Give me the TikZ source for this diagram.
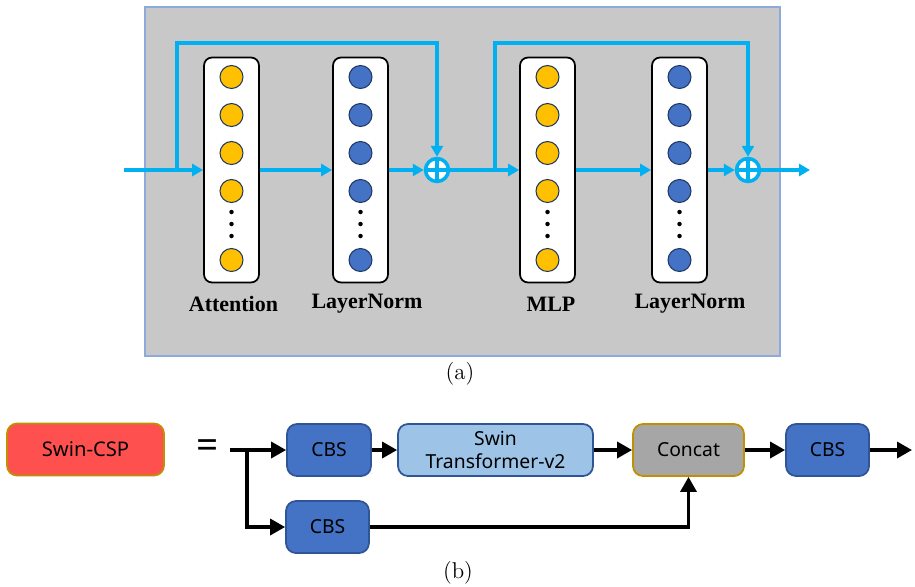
\documentclass[tikz,border=0pt]{standalone}
\usepackage{fontspec}
\usetikzlibrary{arrows.meta}
\newfontfamily\labelfont{Liberation Serif}
\newfontfamily\blockfont{Noto Sans}
\definecolor{panelgray}{HTML}{C8C8C8}
\definecolor{frameblue}{HTML}{8EAADB}
\definecolor{skyblue}{HTML}{00B0F0}
\definecolor{unitgold}{HTML}{FFC000}
\definecolor{unitblue}{HTML}{4472C4}
\definecolor{unitedge}{HTML}{203864}
\definecolor{cspred}{HTML}{FF5050}
\definecolor{goldedge}{HTML}{BF9000}
\definecolor{cbsblue}{HTML}{4472C4}
\definecolor{cbsedge}{HTML}{2F5597}
\definecolor{swinblue}{HTML}{9DC3E6}
\definecolor{concatgray}{HTML}{A6A6A6}

\begin{document}
\begin{tikzpicture}[
	x=0.02cm, y=-0.02cm,
	frame/.style={draw=frameblue, fill=panelgray, line width=0.8pt},
	col/.style={draw=black, fill=white, line width=1pt, rounded corners=0.16cm,
		minimum width=1.1cm, minimum height=4.5cm, inner sep=0pt},
	gold/.style={circle, draw=unitedge, fill=unitgold, line width=0.6pt, minimum size=0.46cm, inner sep=0pt},
	navy/.style={circle, draw=unitedge, fill=unitblue, line width=0.6pt, minimum size=0.46cm, inner sep=0pt},
	plus/.style={circle, draw=skyblue, fill=white, line width=2pt, minimum size=0.46cm, inner sep=0pt,
		path picture={\draw[skyblue, line width=2pt]
			(path picture bounding box.north) -- (path picture bounding box.south)
			(path picture bounding box.west) -- (path picture bounding box.east);}},
	flow/.style={draw=skyblue, line width=2pt, -{Triangle[length=0.22cm, width=0.24cm]}},
	lbl/.style={font=\labelfont\bfseries\fontsize{12.5}{15}\selectfont, anchor=base},
	blk/.style={rounded corners=0.2cm, minimum height=1.04cm, line width=1pt, align=center,
		font=\blockfont\fontsize{11}{13.6}\selectfont},
	arr/.style={line width=1.9pt, -{Triangle[length=0.3cm, width=0.32cm]}},
	caption/.style={font=\fontsize{13}{15}\selectfont}
]
	\useasboundingbox (0,0) rectangle (915,586);

	% (a) block {
	\draw[frame] (145,7) rectangle (780,356);
	\foreach \c/\x/\s in {att/231.5/gold, ln1/360.5/navy, mlp/547.5/gold, ln2/679.5/navy}{
		\node[col] (\c) at (\x,170) {};
		\foreach \y [count=\i] in {77,115,153,191,260}
			\node[\s] (\c-\i) at (\x,\y) {};
		\foreach \y in {212,224,236}
			\fill (\x,\y) circle (0.045cm);
	}
	\node[plus] (plus1) at (437,170) {};
	\node[plus] (plus2) at (748,170) {};
	\coordinate (in) at (124,170);
	\coordinate (split1) at (177,170);
	\coordinate (top1) at (437,43);
	\coordinate (split2) at (495,170);
	\coordinate (top2) at (748,43);
	\coordinate (out1) at (810,170);

	\draw[flow] (in) -- (att);
	\draw[flow] (split1) |- (top1) -- (plus1);
	\draw[flow] (att) -- (ln1);
	\draw[flow] (ln1) -- (plus1);
	\draw[flow] (plus1) -- (mlp);
	\draw[flow] (split2) |- (top2) -- (plus2);
	\draw[flow] (mlp) -- (ln2);
	\draw[flow] (ln2) -- (plus2);
	\draw[flow] (plus2) -- (out1);

	\node[lbl] (attlbl) at (233.5,311) {Attention};
	\node[lbl] (ln1lbl) at (367,308) {LayerNorm};
	\node[lbl] (mlplbl) at (551,311) {MLP};
	\node[lbl] (ln2lbl) at (690,308) {LayerNorm};
	\node[caption] (capa) at (460,374) {(a)};
	% }

	% (b) Swin-CSP {
	\node[blk, draw=goldedge, fill=cspred, minimum width=3.14cm,
		font=\blockfont\fontsize{11.5}{13}\selectfont] (csp) at (85.5,449.5) {Swin-CSP};
	\node[font=\blockfont\bfseries\fontsize{22}{24}\selectfont, inner sep=0pt] (eq) at (208,449) {=};
	\node[blk, draw=cbsedge, fill=cbsblue, minimum width=1.68cm] (cbs1) at (329,450) {CBS};
	\node[blk, draw=cbsedge, fill=cbsblue, minimum width=1.66cm] (cbs2) at (327.5,527) {CBS};
	\node[blk, draw=cbsedge, fill=swinblue, minimum width=3.9cm] (swin) at (495.5,450) {Swin\\Transformer-v2};
	\node[blk, draw=goldedge, fill=concatgray, minimum width=2.22cm] (concat) at (688.5,450) {Concat};
	\node[blk, draw=cbsedge, fill=cbsblue, minimum width=1.66cm] (cbs3) at (827.5,450) {CBS};
	\coordinate (src) at (230,450);
	\coordinate (split3) at (247,450);
	\coordinate (out2) at (912,450);

	\draw[arr] (src) -- (cbs1);
	\draw[arr] (split3) |- (cbs2);
	\draw[arr] (cbs1) -- (swin);
	\draw[arr] (swin) -- (concat);
	\draw[arr] (cbs2) -| (concat);
	\draw[arr] (concat) -- (cbs3);
	\draw[arr] (cbs3) -- (out2);
	\node[caption] (capb) at (458,573) {(b)};
	% }
\end{tikzpicture}
\end{document}
